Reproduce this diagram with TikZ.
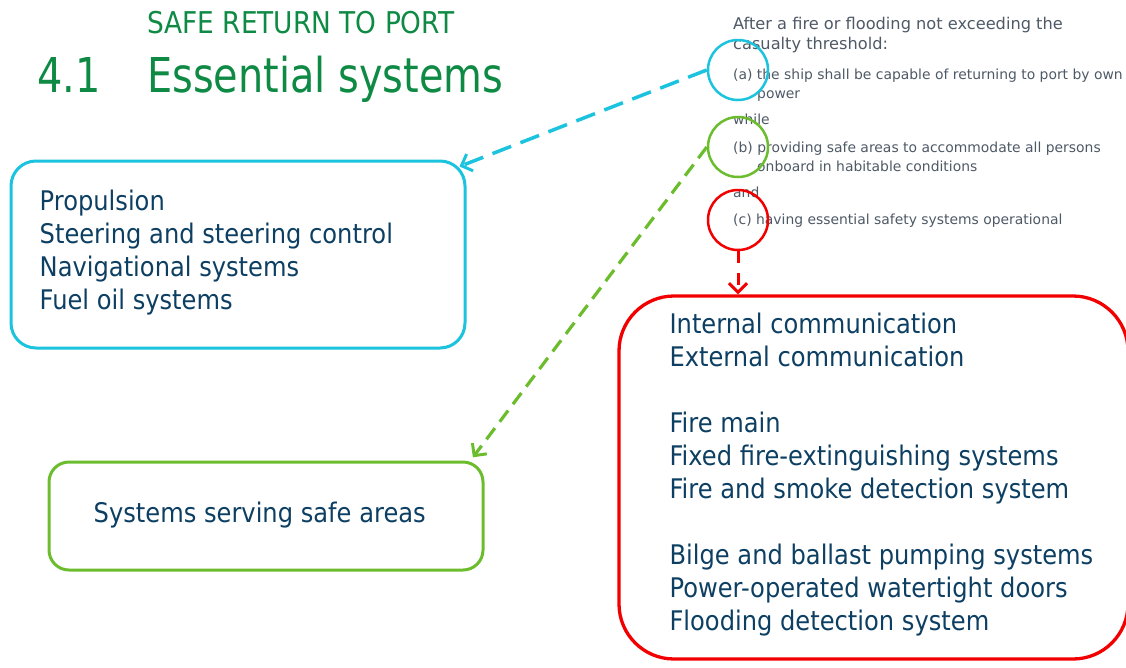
\documentclass[tikz,border=0pt]{standalone}
\usepackage{fontspec}
\newfontfamily\tahsub{DejaVu Sans}[FakeStretch=0.88]
\newfontfamily\tah{DejaVu Sans}[FakeStretch=0.895]
\newfontfamily\tahtitle{DejaVu Sans}[FakeStretch=0.83]
\newfontfamily\verd{DejaVu Sans}
\usetikzlibrary{arrows.meta}
\definecolor{titlegreen}{HTML}{0E8A44}
\definecolor{txtblue}{HTML}{0D3F63}
\definecolor{cyanc}{HTML}{1CC3DE}
\definecolor{greenc}{HTML}{6CBD2E}
\definecolor{redc}{HTML}{F20000}
\definecolor{grayt}{HTML}{4E5966}
\tikzset{
  sysbox/.style={draw, line width=3pt, rectangle, rounded corners=#1, inner sep=0pt},
  systext/.style={inner sep=0pt, anchor=west, align=left, text=txtblue, font=\tah\fontsize{27}{33}\selectfont},
  ring/.style={draw, circle, line width=2.5pt, minimum size=60pt, inner sep=0pt},
  para/.style={inner sep=0pt, anchor=base west, text=grayt, align=left, font=\verd\fontsize{13.9}{19}\selectfont},
  link/.style={line width=3.5pt, -{Straight Barb[length=9pt,width=18pt,line width=3pt]}},
}
\begin{document}
\begin{tikzpicture}[x=1pt,y=-1pt]
\useasboundingbox (0,0) rectangle (1126,667);
% titles
\node[inner sep=0pt, anchor=base west, text=titlegreen, font=\tahsub\fontsize{30}{36}\selectfont] (sub) at (147,33) {SAFE RETURN TO PORT};
\node[inner sep=0pt, anchor=base west, text=titlegreen, font=\tahtitle\fontsize{48}{56}\selectfont] (title) at (37,92) {\makebox[110pt][l]{4.1}Essential systems};
% rule text (screenshot); base anchor = last line
\node[para, font=\verd\fontsize{16.2}{20}\selectfont] (hdr) at (733,49) {After a fire or flooding not exceeding the\\casualty threshold:};
\node[para] (ta) at (733,98) {(a) the ship shall be capable of returning to port by own\\\hspace*{24pt}power};
\node[para] (tw) at (733,124) {while};
\node[para] (tb) at (733,171) {(b) providing safe areas to accommodate all persons\\\hspace*{24pt}onboard in habitable conditions};
\node[para] (tn) at (733,197) {and};
\node[para] (tc) at (733,224) {(c) having essential safety systems operational};
% circles
\node[ring, draw=cyanc] (ca) at (738,70) {};
\node[ring, draw=greenc] (cb) at (738,147) {};
\node[ring, draw=redc] (cc) at (738,220) {};
% boxes
\node[sysbox=25pt, draw=cyanc, minimum width=454pt, minimum height=187pt] (boxa) at (238,254.5) {};
\node[systext, xshift=30pt, yshift=2pt] (la) at (boxa.west)
  {Propulsion\\Steering and steering control\\Navigational systems\\Fuel oil systems};
\node[sysbox=20pt, draw=greenc, minimum width=434pt, minimum height=108pt] (boxb) at (266,516) {};
\node[systext, xshift=46pt, yshift=1pt] (lb) at (boxb.west) {Systems serving safe areas};
\node[sysbox=55pt, draw=redc, line width=3.3pt, minimum width=509pt, minimum height=363pt] (boxc) at (873.5,477.5) {};
\node[systext, xshift=52pt, yshift=2.5pt] (lc) at (boxc.west)
  {Internal communication\\External communication\\[33pt]Fire main\\Fixed fire-extinguishing systems\\Fire and smoke detection system\\[33pt]Bilge and ballast pumping systems\\Power-operated watertight doors\\Flooding detection system};
% connectors
\draw[link, draw=cyanc, dash pattern=on 20pt off 10pt] (ca.west) -- ([xshift=-7pt,yshift=-7pt]boxa.north east);
\draw[link, draw=greenc, line width=3.2pt, dash pattern=on 14pt off 8pt, shorten >=4pt] (cb.west) -- ([xshift=-14pt]boxb.north east);
\draw[link, draw=redc, line width=3pt, dash pattern=on 12pt off 10pt] (cc.south) -- (cc.south |- boxc.north);
\end{tikzpicture}
\end{document}
